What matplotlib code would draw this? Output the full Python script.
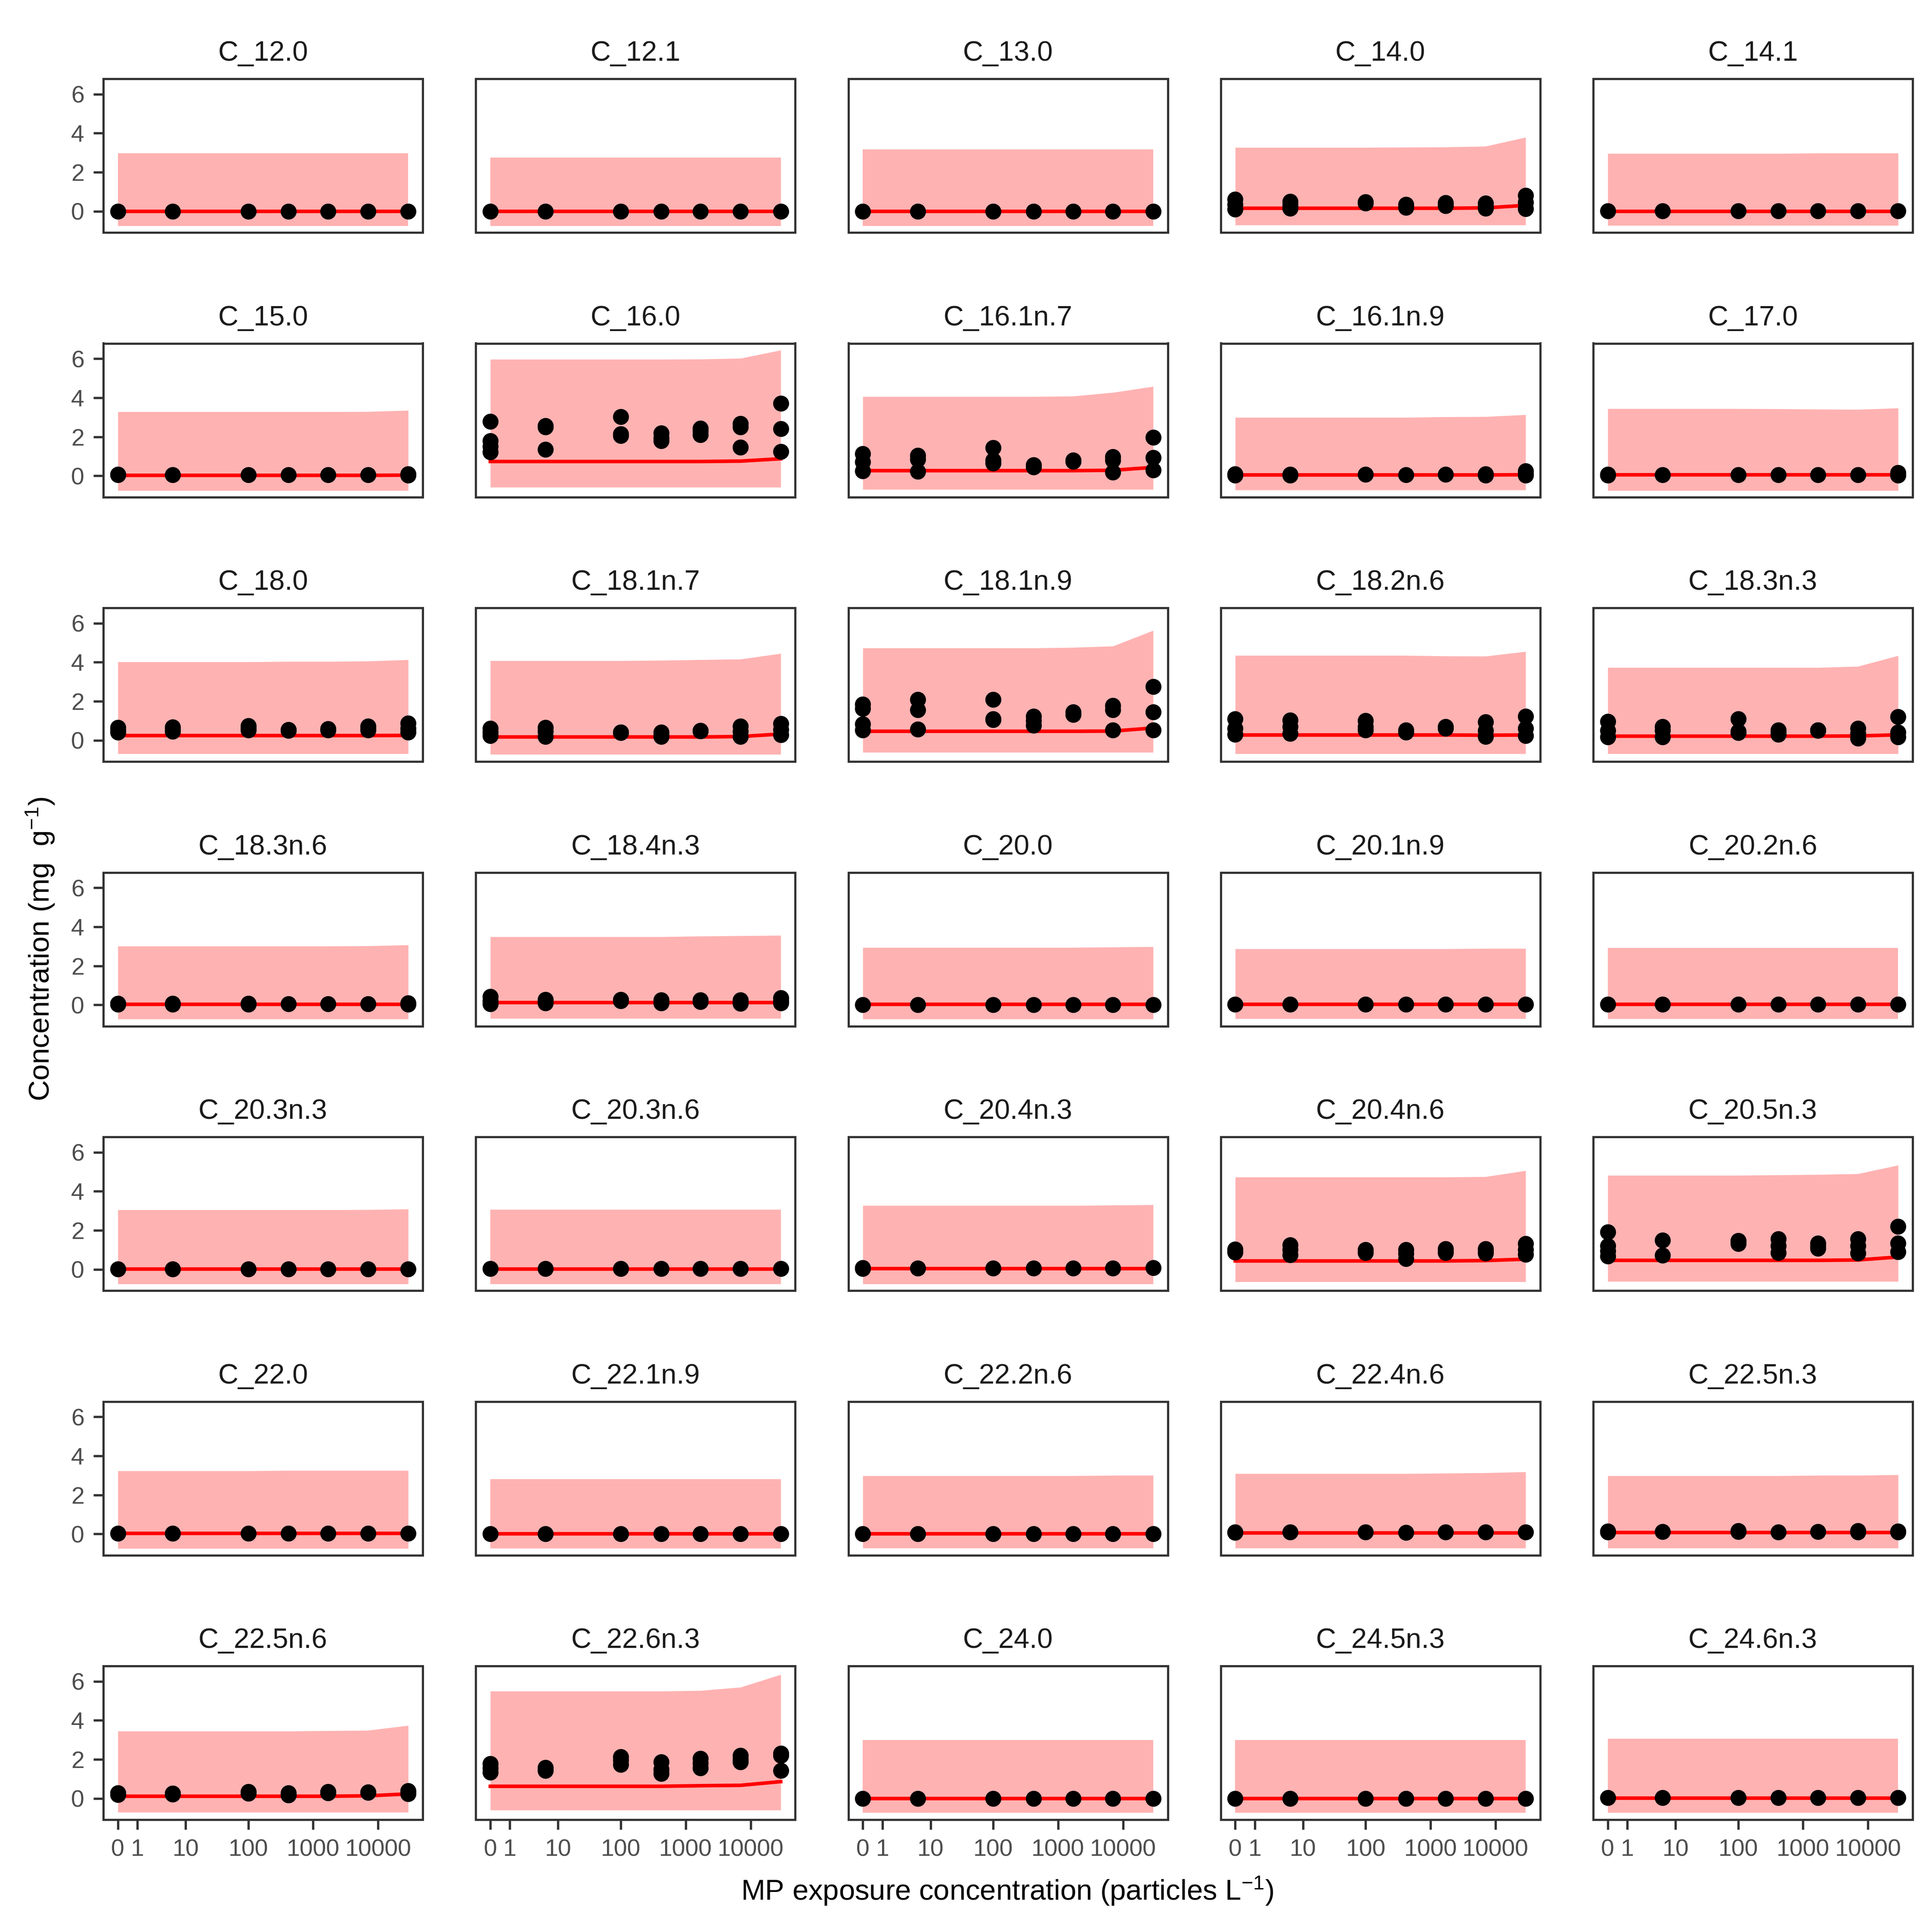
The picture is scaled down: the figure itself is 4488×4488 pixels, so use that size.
import numpy as np
import matplotlib
matplotlib.use("Agg")
import matplotlib.pyplot as plt
from matplotlib.ticker import NullLocator

plt.rcParams["font.family"] = ["Liberation Sans", "DejaVu Sans"]
plt.rcParams["mathtext.fontset"] = "custom"
plt.rcParams["mathtext.rm"] = "Liberation Sans"
plt.rcParams["mathtext.it"] = "Liberation Sans:italic"

# exposure levels (particles per litre)
doses = [0, 6, 100, 420, 1700, 7000, 29000]
x_breaks = [0, 1, 10, 100, 1000, 10000]
y_breaks = [0, 2, 4, 6]

compounds = ["C_12.0", "C_12.1", "C_13.0", "C_14.0", "C_14.1",
             "C_15.0", "C_16.0", "C_16.1n.7", "C_16.1n.9", "C_17.0",
             "C_18.0", "C_18.1n.7", "C_18.1n.9", "C_18.2n.6", "C_18.3n.3",
             "C_18.3n.6", "C_18.4n.3", "C_20.0", "C_20.1n.9", "C_20.2n.6",
             "C_20.3n.3", "C_20.3n.6", "C_20.4n.3", "C_20.4n.6", "C_20.5n.3",
             "C_22.0", "C_22.1n.9", "C_22.2n.6", "C_22.4n.6", "C_22.5n.3",
             "C_22.5n.6", "C_22.6n.3", "C_24.0", "C_24.5n.3", "C_24.6n.3"]

# upper bound of prediction band at each dose
upper = {
    "C_12.0": [2.98, 2.98, 2.98, 2.98, 2.98, 2.98, 2.98],
    "C_12.1": [2.74, 2.74, 2.74, 2.74, 2.74, 2.74, 2.74],
    "C_13.0": [3.18, 3.18, 3.18, 3.18, 3.18, 3.18, 3.18],
    "C_14.0": [3.27, 3.27, 3.27, 3.28, 3.29, 3.33, 3.79],
    "C_14.1": [2.96, 2.96, 2.96, 2.96, 2.98, 2.98, 2.98],
    "C_15.0": [3.28, 3.28, 3.28, 3.28, 3.28, 3.29, 3.35],
    "C_16.0": [5.97, 5.97, 5.97, 5.97, 5.98, 6.02, 6.44],
    "C_16.1n.7": [4.06, 4.06, 4.06, 4.06, 4.08, 4.27, 4.58],
    "C_16.1n.9": [2.99, 2.99, 2.99, 2.99, 3.02, 3.03, 3.13],
    "C_17.0": [3.44, 3.44, 3.44, 3.43, 3.41, 3.40, 3.47],
    "C_18.0": [4.02, 4.02, 4.02, 4.04, 4.04, 4.06, 4.13],
    "C_18.1n.7": [4.08, 4.08, 4.08, 4.10, 4.13, 4.16, 4.45],
    "C_18.1n.9": [4.73, 4.73, 4.73, 4.73, 4.76, 4.83, 5.63],
    "C_18.2n.6": [4.35, 4.35, 4.35, 4.35, 4.32, 4.31, 4.55],
    "C_18.3n.3": [3.73, 3.73, 3.73, 3.73, 3.73, 3.79, 4.34],
    "C_18.3n.6": [3.01, 3.01, 3.01, 3.01, 3.01, 3.02, 3.07],
    "C_18.4n.3": [3.49, 3.49, 3.49, 3.49, 3.52, 3.54, 3.56],
    "C_20.0": [2.94, 2.94, 2.94, 2.94, 2.94, 2.96, 2.98],
    "C_20.1n.9": [2.87, 2.87, 2.87, 2.87, 2.87, 2.89, 2.89],
    "C_20.2n.6": [2.92, 2.92, 2.92, 2.92, 2.92, 2.92, 2.92],
    "C_20.3n.3": [3.05, 3.05, 3.05, 3.05, 3.05, 3.06, 3.09],
    "C_20.3n.6": [3.05, 3.05, 3.05, 3.05, 3.05, 3.05, 3.05],
    "C_20.4n.3": [3.27, 3.27, 3.27, 3.27, 3.27, 3.29, 3.31],
    "C_20.4n.6": [4.73, 4.73, 4.73, 4.73, 4.73, 4.75, 5.06],
    "C_20.5n.3": [4.82, 4.82, 4.82, 4.84, 4.86, 4.90, 5.34],
    "C_22.0": [3.23, 3.23, 3.23, 3.25, 3.25, 3.25, 3.25],
    "C_22.1n.9": [2.80, 2.80, 2.80, 2.80, 2.80, 2.80, 2.80],
    "C_22.2n.6": [2.98, 2.98, 2.98, 2.98, 2.98, 3.00, 3.00],
    "C_22.4n.6": [3.09, 3.09, 3.09, 3.09, 3.11, 3.13, 3.18],
    "C_22.5n.3": [2.98, 2.98, 2.98, 2.98, 3.00, 3.00, 3.03],
    "C_22.5n.6": [3.45, 3.45, 3.45, 3.45, 3.47, 3.49, 3.74],
    "C_22.6n.3": [5.50, 5.50, 5.50, 5.50, 5.53, 5.70, 6.35],
    "C_24.0": [3.00, 3.00, 3.00, 3.00, 3.00, 3.00, 3.00],
    "C_24.5n.3": [3.00, 3.00, 3.00, 3.00, 3.00, 3.00, 3.00],
    "C_24.6n.3": [3.07, 3.07, 3.07, 3.07, 3.07, 3.07, 3.07],
}

# lower bound of prediction band (nearly flat)
lower = {
    "C_12.0": -0.75, "C_12.1": -0.75, "C_13.0": -0.75, "C_14.0": -0.71,
    "C_14.1": -0.73, "C_15.0": -0.76, "C_16.0": -0.59, "C_16.1n.7": -0.70,
    "C_16.1n.9": -0.73, "C_17.0": -0.76, "C_18.0": -0.69, "C_18.1n.7": -0.72,
    "C_18.1n.9": -0.62, "C_18.2n.6": -0.69, "C_18.3n.3": -0.69,
    "C_18.3n.6": -0.73, "C_18.4n.3": -0.70, "C_20.0": -0.73,
    "C_20.1n.9": -0.71, "C_20.2n.6": -0.73, "C_20.3n.3": -0.75,
    "C_20.3n.6": -0.75, "C_20.4n.3": -0.75, "C_20.4n.6": -0.64,
    "C_20.5n.3": -0.62, "C_22.0": -0.75, "C_22.1n.9": -0.75,
    "C_22.2n.6": -0.73, "C_22.4n.6": -0.73, "C_22.5n.3": -0.73,
    "C_22.5n.6": -0.71, "C_22.6n.3": -0.60, "C_24.0": -0.73,
    "C_24.5n.3": -0.73, "C_24.6n.3": -0.73,
}

# fitted mean at each dose
fit = {
    "C_12.0": [0.0, 0.0, 0.0, 0.0, 0.0, 0.0, 0.0],
    "C_12.1": [0.0, 0.0, 0.0, 0.0, 0.0, 0.0, 0.0],
    "C_13.0": [0.0, 0.0, 0.0, 0.0, 0.0, 0.0, 0.0],
    "C_14.0": [0.15, 0.15, 0.15, 0.15, 0.15, 0.17, 0.30],
    "C_14.1": [0.0, 0.0, 0.0, 0.0, 0.0, 0.0, 0.0],
    "C_15.0": [0.02, 0.02, 0.02, 0.02, 0.02, 0.02, 0.03],
    "C_16.0": [0.73, 0.73, 0.73, 0.73, 0.73, 0.75, 0.87],
    "C_16.1n.7": [0.26, 0.26, 0.26, 0.26, 0.26, 0.28, 0.43],
    "C_16.1n.9": [0.04, 0.04, 0.04, 0.04, 0.04, 0.04, 0.05],
    "C_17.0": [0.04, 0.04, 0.04, 0.04, 0.04, 0.04, 0.04],
    "C_18.0": [0.24, 0.24, 0.24, 0.24, 0.24, 0.24, 0.25],
    "C_18.1n.7": [0.17, 0.17, 0.17, 0.17, 0.17, 0.19, 0.32],
    "C_18.1n.9": [0.46, 0.46, 0.46, 0.46, 0.46, 0.47, 0.63],
    "C_18.2n.6": [0.27, 0.27, 0.27, 0.27, 0.27, 0.26, 0.27],
    "C_18.3n.3": [0.21, 0.21, 0.21, 0.21, 0.21, 0.22, 0.28],
    "C_18.3n.6": [0.02, 0.02, 0.02, 0.02, 0.02, 0.02, 0.02],
    "C_18.4n.3": [0.12, 0.12, 0.12, 0.12, 0.12, 0.12, 0.12],
    "C_20.0": [0.02, 0.02, 0.02, 0.02, 0.02, 0.02, 0.02],
    "C_20.1n.9": [0.02, 0.02, 0.02, 0.02, 0.02, 0.02, 0.02],
    "C_20.2n.6": [0.02, 0.02, 0.02, 0.02, 0.02, 0.02, 0.02],
    "C_20.3n.3": [0.02, 0.02, 0.02, 0.02, 0.02, 0.02, 0.02],
    "C_20.3n.6": [0.02, 0.02, 0.02, 0.02, 0.02, 0.02, 0.02],
    "C_20.4n.3": [0.04, 0.04, 0.04, 0.04, 0.04, 0.04, 0.04],
    "C_20.4n.6": [0.43, 0.43, 0.43, 0.43, 0.43, 0.45, 0.52],
    "C_20.5n.3": [0.46, 0.46, 0.46, 0.46, 0.46, 0.48, 0.63],
    "C_22.0": [0.02, 0.02, 0.02, 0.02, 0.02, 0.02, 0.02],
    "C_22.1n.9": [0.0, 0.0, 0.0, 0.0, 0.0, 0.0, 0.0],
    "C_22.2n.6": [0.0, 0.0, 0.0, 0.0, 0.0, 0.0, 0.0],
    "C_22.4n.6": [0.04, 0.04, 0.04, 0.04, 0.04, 0.04, 0.04],
    "C_22.5n.3": [0.07, 0.07, 0.07, 0.07, 0.07, 0.07, 0.07],
    "C_22.5n.6": [0.11, 0.11, 0.11, 0.11, 0.11, 0.13, 0.23],
    "C_22.6n.3": [0.62, 0.62, 0.62, 0.62, 0.65, 0.67, 0.86],
    "C_24.0": [0.0, 0.0, 0.0, 0.0, 0.0, 0.0, 0.0],
    "C_24.5n.3": [0.0, 0.0, 0.0, 0.0, 0.0, 0.0, 0.0],
    "C_24.6n.3": [0.02, 0.02, 0.02, 0.02, 0.02, 0.02, 0.02],
}

# measured replicates, one list per dose
measured = {
    "C_12.0": [[0.0], [0.0], [0.0], [0.0], [0.0], [0.0], [0.0]],
    "C_12.1": [[0.0], [0.0], [0.0], [0.0], [0.0], [0.0], [0.0]],
    "C_13.0": [[0.0], [0.0], [0.0], [0.0], [0.0], [0.0], [0.0]],
    "C_14.0": [[0.6, 0.35, 0.1], [0.5, 0.3, 0.15], [0.48, 0.45, 0.42],
               [0.35, 0.25, 0.18], [0.44, 0.35, 0.27], [0.41, 0.25, 0.15],
               [0.81, 0.45, 0.13]],
    "C_14.1": [[0.01], [0.01], [0.02], [0.01], [0.01], [0.01], [0.01]],
    "C_15.0": [[0.06, 0.04], [0.05], [0.05], [0.04], [0.04], [0.04], [0.08, 0.03]],
    "C_16.0": [[2.79, 1.78, 1.5, 1.22], [2.56, 2.5, 1.36], [3.03, 2.15, 2.05],
               [2.19, 1.95, 1.78], [2.44, 2.3, 2.11], [2.67, 2.5, 1.45],
               [3.7, 2.4, 1.23]],
    "C_16.1n.7": [[1.12, 0.7, 0.25], [1.04, 0.85, 0.22], [1.44, 0.8, 0.64],
                  [0.56, 0.5, 0.44], [0.8, 0.75, 0.72], [0.98, 0.8, 0.19],
                  [1.97, 0.93, 0.3]],
    "C_16.1n.9": [[0.08, 0.03], [0.06, 0.03], [0.06], [0.05], [0.06],
                  [0.08, 0.03], [0.25, 0.1, 0.03]],
    "C_17.0": [[0.07, 0.03], [0.05], [0.05], [0.04], [0.05], [0.05],
               [0.15, 0.05, 0.02]],
    "C_18.0": [[0.66, 0.5, 0.41], [0.68, 0.55, 0.46], [0.74, 0.6, 0.53],
               [0.55, 0.53, 0.51], [0.59, 0.56, 0.53], [0.72, 0.6, 0.53],
               [0.88, 0.6, 0.41]],
    "C_18.1n.7": [[0.62, 0.4, 0.24], [0.66, 0.45, 0.2], [0.42, 0.4, 0.38],
                  [0.42, 0.3, 0.2], [0.51, 0.48, 0.47], [0.72, 0.45, 0.2],
                  [0.85, 0.55, 0.28]],
    "C_18.1n.9": [[1.84, 1.62, 0.83, 0.53], [2.08, 1.56, 0.56], [2.09, 1.1, 1.05],
                  [1.23, 1.0, 0.77], [1.45, 1.35, 1.31], [1.77, 1.56, 0.52],
                  [2.74, 1.45, 0.52]],
    "C_18.2n.6": [[1.1, 0.6, 0.29], [1.03, 0.7, 0.34], [1.01, 0.7, 0.52],
                  [0.52, 0.45, 0.4], [0.7, 0.65, 0.62], [0.94, 0.5, 0.2],
                  [1.23, 0.6, 0.24]],
    "C_18.3n.3": [[0.97, 0.5, 0.17], [0.7, 0.5, 0.17], [1.1, 0.45, 0.38],
                  [0.53, 0.4, 0.31], [0.53, 0.52, 0.5], [0.62, 0.35, 0.1],
                  [1.21, 0.4, 0.17]],
    "C_18.3n.6": [[0.07, 0.05, 0.02], [0.06, 0.03], [0.07, 0.03], [0.04],
                  [0.04], [0.05], [0.08, 0.03]],
    "C_18.4n.3": [[0.42, 0.2, 0.05], [0.26, 0.15, 0.1], [0.26, 0.25, 0.2],
                  [0.24, 0.15, 0.1], [0.24, 0.2, 0.16], [0.24, 0.15, 0.07],
                  [0.35, 0.2, 0.1]],
    "C_20.0": [[0.0], [0.0], [0.0], [0.0], [0.0], [0.0], [0.01]],
    "C_20.1n.9": [[0.02], [0.02], [0.02], [0.02], [0.02], [0.02], [0.02]],
    "C_20.2n.6": [[0.02], [0.02], [0.02], [0.02], [0.02], [0.02], [0.02]],
    "C_20.3n.3": [[0.02], [0.02], [0.02], [0.02], [0.02], [0.02], [0.02]],
    "C_20.3n.6": [[0.03], [0.03], [0.03], [0.03], [0.03], [0.04], [0.04]],
    "C_20.4n.3": [[0.07, 0.04], [0.06], [0.06], [0.06], [0.06], [0.06], [0.07]],
    "C_20.4n.6": [[1.02, 0.95, 0.88], [1.26, 1.0, 0.75], [1.0, 0.93, 0.86],
                  [1.0, 0.8, 0.55], [1.06, 0.95, 0.85], [1.06, 0.95, 0.83],
                  [1.32, 1.0, 0.77]],
    "C_20.5n.3": [[1.92, 1.2, 0.95, 0.68], [1.49, 0.72], [1.47, 1.4, 1.32],
                  [1.55, 1.2, 0.86], [1.34, 1.2, 1.08], [1.55, 1.2, 0.83],
                  [2.2, 1.34, 0.89]],
    "C_22.0": [[0.02], [0.02], [0.02], [0.02], [0.02], [0.02], [0.02]],
    "C_22.1n.9": [[0.0], [0.0], [0.0], [0.0], [0.0], [0.0], [0.0]],
    "C_22.2n.6": [[0.0], [0.0], [0.0], [0.0], [0.0], [0.0], [0.0]],
    "C_22.4n.6": [[0.09, 0.06], [0.08], [0.08], [0.07], [0.08], [0.09], [0.09]],
    "C_22.5n.3": [[0.14, 0.1], [0.12], [0.16, 0.12], [0.1], [0.12],
                  [0.15, 0.1], [0.13, 0.1]],
    "C_22.5n.6": [[0.28, 0.25, 0.2], [0.26, 0.25, 0.22], [0.35, 0.3, 0.25],
                  [0.28, 0.2, 0.16], [0.35, 0.3, 0.27], [0.32, 0.3],
                  [0.39, 0.3, 0.24]],
    "C_22.6n.3": [[1.79, 1.55, 1.33], [1.59, 1.5, 1.43], [2.14, 1.95, 1.73],
                  [1.86, 1.5, 1.27], [2.05, 1.8, 1.55], [2.19, 2.0, 1.86],
                  [2.31, 2.2, 1.42]],
    "C_24.0": [[0.0], [0.0], [0.0], [0.0], [0.0], [0.0], [0.0]],
    "C_24.5n.3": [[0.0], [0.0], [0.0], [0.0], [0.0], [0.0], [0.0]],
    "C_24.6n.3": [[0.03], [0.03], [0.03], [0.03], [0.03], [0.03], [0.03]],
}


def fwd(x):
    return np.log10(np.clip(np.asarray(x, dtype=float) + 1, 1e-9, None))


def inv(y):
    return 10 ** np.asarray(y, dtype=float) - 1


W = 4488.0
fig = plt.figure(figsize=(14.96, 14.96), dpi=300)

# ggplot-style 5% expansion in log10(x + 1) space
lo_t, hi_t = fwd(min(doses)), fwd(max(doses))
pad_t = 0.05 * (hi_t - lo_t)
xlim = (inv(lo_t - pad_t), inv(hi_t + pad_t))
ylim = (-1.09, 6.79)

grey = "#333333"
for i, name in enumerate(compounds):
    row, col = divmod(i, 5)
    left = (240 + 865.25 * col) / W
    top = (183 + 614.5 * row) / W
    ax = fig.add_axes([left, 1 - top - 357 / W, 742 / W, 357 / W])
    ax.set_xscale("function", functions=(fwd, inv))

    ax.fill_between(doses, lower[name], upper[name], color="red",
                    alpha=0.3, linewidth=0, zorder=1)
    ax.plot(doses, fit[name], color="red", lw=2.0, zorder=2)
    for d, reps in zip(doses, measured[name]):
        ax.plot([d] * len(reps), reps, "o", color="black", ms=8.9,
                mew=0, zorder=3)

    ax.set_xlim(xlim)
    ax.set_ylim(ylim)
    ax.set_xticks(x_breaks)
    ax.set_yticks(y_breaks)
    ax.xaxis.set_minor_locator(NullLocator())
    ax.yaxis.set_minor_locator(NullLocator())
    ax.set_xticklabels([str(b) for b in x_breaks])
    ax.set_yticklabels([str(b) for b in y_breaks])
    ax.tick_params(length=5.6, width=1.3, color=grey, labelcolor="#4D4D4D",
                   labelsize=13.3, pad=5)
    if row < 6:
        ax.tick_params(axis="x", bottom=False, labelbottom=False)
    if col > 0:
        ax.tick_params(axis="y", left=False, labelleft=False)
    for sp in ax.spines.values():
        sp.set_color(grey)
        sp.set_linewidth(1.2)
    ax.set_title(name, fontsize=15.6, color="#1A1A1A", pad=10)

fig.text(2340 / W, 1 - 4393 / W,
         r"MP exposure concentration (particles L$^{-1}$)",
         ha="center", va="center", fontsize=16.1, color="black")
fig.text(94 / W, 1 - 2205 / W, r"Concentration (mg  g$^{-1}$)",
         ha="center", va="center", rotation=90, fontsize=16.2, color="black")

fig.savefig("out.png", dpi=300, facecolor="white")
